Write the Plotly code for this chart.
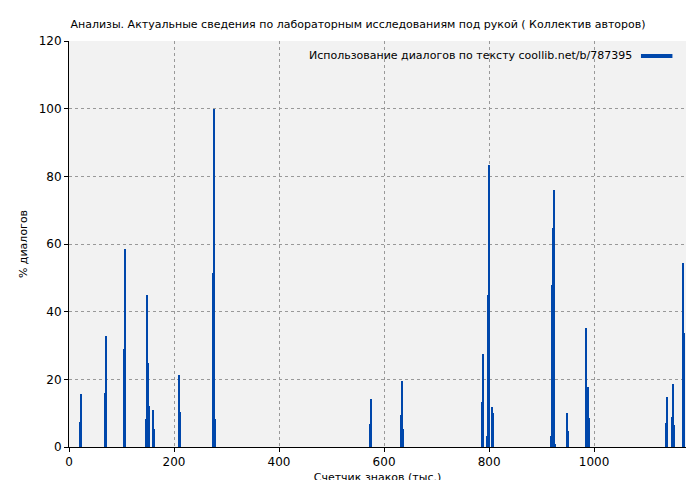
import plotly.graph_objects as go

x_vals = [20, 22, 69, 71, 105.4, 107.2, 147.3, 149.2, 151, 153, 160.6, 162.5, 210, 212,
          275, 276.8, 278.7, 572.7, 574.6, 633, 635, 637, 786, 788, 795.6, 797.5, 799.4,
          805, 807, 917.5, 919.4, 921.3, 923, 925, 949, 951, 984, 986, 988, 990,
          1136.5, 1138.5, 1148, 1150, 1152, 1169, 1171]
y_vals = [7.5, 15.8, 16.0, 32.8, 29.0, 58.5, 8.3, 45, 24.8, 12.1, 11, 5.3, 21.3, 10.3,
          51.4, 100, 8.3, 6.8, 14.2, 9.5, 19.6, 5.3, 13.4, 27.5, 3.3, 45, 83.4,
          11.8, 10, 3.3, 47.9, 64.7, 76, 0.9, 10, 4.7, 35.2, 17.4, 17.7, 8.6,
          7.1, 14.8, 8.9, 18.6, 6.5, 54.4, 33.7]
legend_text = "Использование диалогов по тексту coollib.net/b/787395"

fig = go.Figure(go.Bar(x=x_vals, y=y_vals, width=1.9, marker_color="#0047AB",
                       marker_line_width=0, showlegend=False))
axis_common = dict(showline=True, linecolor="black", linewidth=1, ticks="outside",
                   ticklen=4, tickcolor="black", gridcolor="#999999", griddash="dot",
                   zeroline=False, automargin=False, tickfont=dict(size=12, color="black"))
fig.update_layout(
    width=700, height=480,
    margin=dict(l=61, r=22, t=33, b=41, autoexpand=False),
    paper_bgcolor="white", plot_bgcolor="#f2f2f2",
    font=dict(family="DejaVu Sans", size=11, color="black"),
    title=dict(text="Анализы. Актуальные сведения по лабораторным исследованиям под рукой ( Коллектив авторов)",
               x=0.5, xanchor="center", y=0.975, font=dict(size=11)),
    bargap=0,
    annotations=[dict(xref="paper", yref="paper", x=0.915, y=0.985, xanchor="right",
                      yanchor="top", text=legend_text, showarrow=False, font=dict(size=11))],
    shapes=[dict(type="rect", xref="paper", yref="paper", x0=0.927, x1=0.978,
                 y0=0.958, y1=0.968, fillcolor="#0047AB", line_width=0)],
)
fig.update_xaxes(range=[0, 1175], dtick=200, title=dict(text="Счетчик знаков (тыс.)", standoff=4, font=dict(size=11)), **axis_common)
fig.update_yaxes(range=[0, 120], dtick=20, title=dict(text="% диалогов", standoff=8, font=dict(size=11)), **axis_common)
fig.write_html("out.html")
